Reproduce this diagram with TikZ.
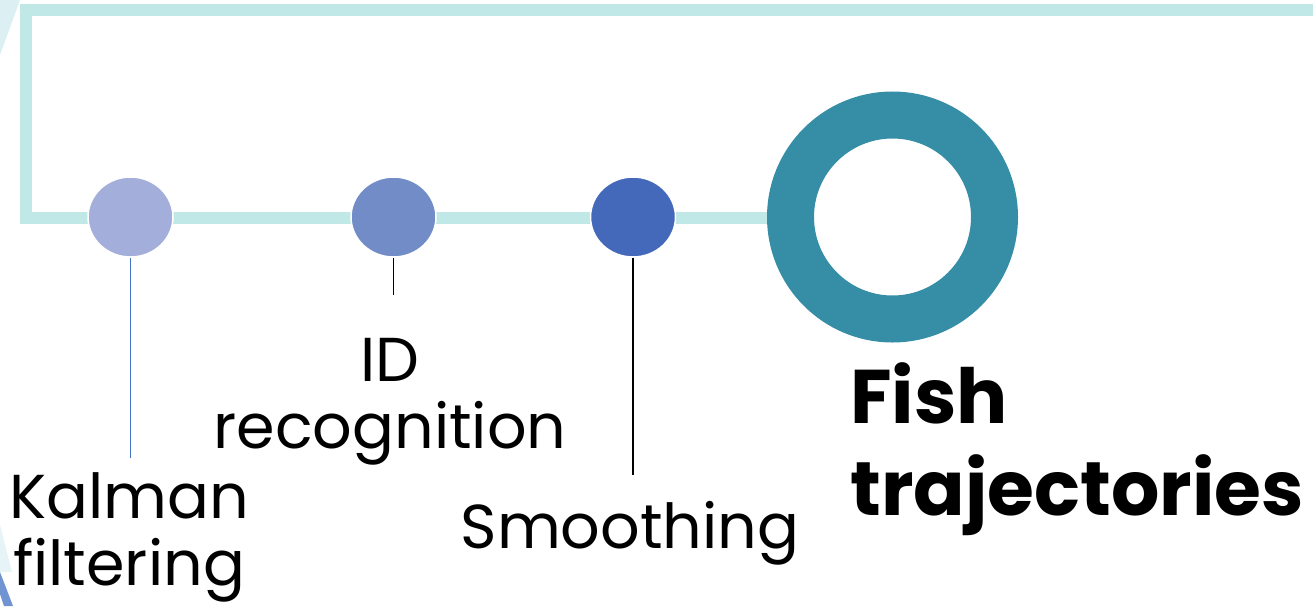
\documentclass[tikz,border=0pt]{standalone}
\usepackage{fontspec}
\setmainfont{Poppins}
\usetikzlibrary{shapes.geometric,positioning}

\definecolor{trackcol}{HTML}{BFE8E6}
\definecolor{stepA}{HTML}{A3AFDA}
\definecolor{stepB}{HTML}{728CC8}
\definecolor{stepC}{HTML}{4569BA}
\definecolor{ringcol}{HTML}{358EA6}
\definecolor{leadblue}{HTML}{4472C4}
\definecolor{hazecol}{HTML}{DCEFF3}
\definecolor{bandcol}{HTML}{7094D2}

\begin{document}
\begin{tikzpicture}[
  x=1pt, y=-1pt,
  track/.style={draw=trackcol, line width=12pt},
  dot/.style={ellipse, draw=white, line width=1.5pt, minimum width=85pt,
              minimum height=80pt, inner sep=0pt},
  lead/.style={line width=1.8pt},
  lbl/.style={align=center, inner sep=0pt, font=\fontsize{62}{67}\selectfont},
  goal/.style={align=left, inner sep=0pt, font=\fontsize{76}{92}\selectfont\bfseries}]
\useasboundingbox (0,0) rectangle (1313,606);
% bits of the slide background showing at the left edge
\fill[hazecol] (0,0) -- (20,0) -- (0,55) -- cycle;
\fill[hazecol!70] (0,525) -- (12,572) -- (0,572) -- cycle;
\fill[bandcol] (0,572) -- (13,606) -- (4,606) -- (0,594) -- cycle;

% the track
\coordinate (far) at (1320,10);
\coordinate (corner) at (26,10);
\coordinate (trackend) at (770,218);
\draw[track] (far) -- (corner) |- (trackend);

% steps and the goal ring
\node[circle, draw=ringcol, line width=47pt, minimum size=204pt, inner sep=0pt] (ring) at (892.5,217) {};
\node[dot, fill=stepA] (kalman) at (130.5,217) {};
\node[dot, fill=stepB] (idrec) at (393.5,217) {};
\node[dot, fill=stepC] (smooth) at (633,217) {};

\coordinate (kalman-end) at (130.5,458);
\coordinate (idrec-end) at (393.5,295);
\coordinate (smooth-end) at (633,475);
\draw[lead, leadblue] (kalman) -- (kalman-end);
\draw[lead] (idrec) -- (idrec-end);
\draw[lead] (smooth) -- (smooth-end);

% labels
\node[lbl, anchor=north] (kalman-lbl) at (129,472) {Kalman\\filtering};
\node[lbl, anchor=north] (idrec-lbl) at (390,338) {ID\\recognition};
\node[lbl, anchor=base] (smooth-lbl) at (630,548) {Smoothing};
\node[goal, anchor=north west] (goal-lbl) at (850,362) {Fish\\trajectories};
\end{tikzpicture}
\end{document}
